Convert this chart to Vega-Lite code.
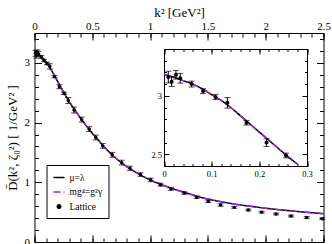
{
"$schema": "https://vega.github.io/schema/vega-lite/v6.json",
"width": 289, "height": 209,
"autosize": {"type": "none"},
"padding": {"left": 34.5, "top": 33, "right": 8.5, "bottom": 2},
"background": "white",
"config": {
  "font": "Liberation Serif",
  "view": {"stroke": null},
  "axis": {"labelFont": "Liberation Serif", "titleFont": "Liberation Serif", "labelColor": "black", "titleColor": "black", "domainColor": "black", "tickColor": "black", "grid": false, "titleFontWeight": "normal", "labelFontSize": 11, "titleFontSize": 13, "labelFlush": false, "labelOverlap": false, "domainWidth": 1, "tickWidth": 1}
},
"datasets": {
  "lattice": [
    {"k2": 0.009, "D": 3.16, "err": 0.05},
    {"k2": 0.016, "D": 3.12, "err": 0.04},
    {"k2": 0.025, "D": 3.18, "err": 0.037},
    {"k2": 0.034, "D": 3.15, "err": 0.042},
    {"k2": 0.058, "D": 3.10, "err": 0.025},
    {"k2": 0.082, "D": 3.04, "err": 0.02},
    {"k2": 0.108, "D": 2.99, "err": 0.022},
    {"k2": 0.133, "D": 2.94, "err": 0.045},
    {"k2": 0.173, "D": 2.77, "err": 0.02},
    {"k2": 0.215, "D": 2.60, "err": 0.033},
    {"k2": 0.256, "D": 2.49, "err": 0.02},
    {"k2": 0.292, "D": 2.37, "err": 0.05},
    {"k2": 0.342, "D": 2.21, "err": 0.05},
    {"k2": 0.408, "D": 2.05, "err": 0.04},
    {"k2": 0.474, "D": 1.89, "err": 0.04},
    {"k2": 0.53, "D": 1.75, "err": 0.04},
    {"k2": 0.59, "D": 1.61, "err": 0.04},
    {"k2": 0.672, "D": 1.46, "err": 0.04},
    {"k2": 0.754, "D": 1.33, "err": 0.04},
    {"k2": 0.826, "D": 1.235, "err": 0.035},
    {"k2": 0.917, "D": 1.13, "err": 0.03},
    {"k2": 1.005, "D": 1.04, "err": 0.03},
    {"k2": 1.09, "D": 0.96, "err": 0.025},
    {"k2": 1.18, "D": 0.89, "err": 0.025},
    {"k2": 1.296, "D": 0.82, "err": 0.02},
    {"k2": 1.403, "D": 0.75, "err": 0.02},
    {"k2": 1.503, "D": 0.68, "err": 0.02},
    {"k2": 1.61, "D": 0.62, "err": 0.02},
    {"k2": 1.728, "D": 0.58, "err": 0.015},
    {"k2": 1.85, "D": 0.536, "err": 0.015},
    {"k2": 1.965, "D": 0.50, "err": 0.015},
    {"k2": 2.09, "D": 0.47, "err": 0.015},
    {"k2": 2.219, "D": 0.435, "err": 0.015},
    {"k2": 2.355, "D": 0.41, "err": 0.015},
    {"k2": 2.49, "D": 0.39, "err": 0.015}
  ],
  "curve": [
    {"k2": 0, "D": 3.185}, {"k2": 0.02, "D": 3.16}, {"k2": 0.04, "D": 3.13}, {"k2": 0.06, "D": 3.10},
    {"k2": 0.08, "D": 3.06}, {"k2": 0.1, "D": 3.01}, {"k2": 0.12, "D": 2.96}, {"k2": 0.14, "D": 2.90},
    {"k2": 0.16, "D": 2.83}, {"k2": 0.18, "D": 2.76}, {"k2": 0.2, "D": 2.69}, {"k2": 0.22, "D": 2.62},
    {"k2": 0.24, "D": 2.55}, {"k2": 0.26, "D": 2.48}, {"k2": 0.28, "D": 2.415}, {"k2": 0.3, "D": 2.35},
    {"k2": 0.35, "D": 2.21}, {"k2": 0.4, "D": 2.07}, {"k2": 0.45, "D": 1.94}, {"k2": 0.5, "D": 1.82},
    {"k2": 0.55, "D": 1.71}, {"k2": 0.6, "D": 1.60}, {"k2": 0.65, "D": 1.50}, {"k2": 0.7, "D": 1.41},
    {"k2": 0.8, "D": 1.26}, {"k2": 0.9, "D": 1.14}, {"k2": 1.0, "D": 1.04}, {"k2": 1.1, "D": 0.96},
    {"k2": 1.2, "D": 0.89}, {"k2": 1.3, "D": 0.83}, {"k2": 1.4, "D": 0.77}, {"k2": 1.5, "D": 0.72},
    {"k2": 1.6, "D": 0.68}, {"k2": 1.7, "D": 0.645}, {"k2": 1.8, "D": 0.615}, {"k2": 1.9, "D": 0.59},
    {"k2": 2.0, "D": 0.565}, {"k2": 2.2, "D": 0.525}, {"k2": 2.4, "D": 0.49}, {"k2": 2.5, "D": 0.475}
  ]
},
"layer": [
  {
    "layer": [
      {
        "data": {"name": "curve"},
        "mark": {"type": "line", "strokeWidth": 1.5, "interpolate": "monotone"},
        "encoding": {
          "x": {"field": "k2", "type": "quantitative", "scale": {"domain": [0, 2.5], "nice": false},
                "axis": {"orient": "top", "values": [0, 0.5, 1, 1.5, 2, 2.5], "format": "~g", "tickSize": -7, "labelPadding": 8.5, "title": "k² [GeV²]", "titlePadding": 1}},
          "y": {"field": "D", "type": "quantitative", "scale": {"domain": [0, 3.5], "nice": false},
                "axis": {"orient": "left", "values": [0, 1, 2, 3], "format": "~g", "tickSize": -7, "labelPadding": 12, "title": "D̄(k², ζ₀²) [ 1/GeV² ]", "titlePadding": 5}},
          "color": {"datum": "mu", "type": "nominal",
                    "scale": {"domain": ["mu", "mg", "lat"], "range": ["black", "#a020f0", "black"]},
                    "legend": {"orient": "none", "legendX": 12, "legendY": 132, "title": null, "strokeColor": "black", "fillColor": "white", "padding": 6, "rowPadding": 3.5, "labelFont": "Liberation Serif", "labelFontSize": 9.5, "labelColor": "black", "labelOffset": 4, "symbolStrokeWidth": 1.5, "symbolSize": 121,
                               "labelExpr": "datum.label == 'mu' ? 'μ=λ' : datum.label == 'mg' ? 'mg⁴=g²γ' : 'Lattice'"}},
          "strokeDash": {"datum": "mu", "type": "nominal",
                    "scale": {"domain": ["mu", "mg", "lat"], "range": [[1, 0], [7, 3, 1.5, 3], [1, 0]]}}
        }
      },
      {
        "data": {"name": "curve"},
        "mark": {"type": "line", "strokeWidth": 1.5, "interpolate": "monotone"},
        "encoding": {
          "x": {"field": "k2", "type": "quantitative", "scale": {"domain": [0, 2.5], "nice": false},
                "axis": {"orient": "top", "values": [0,0.1,0.2,0.3,0.4,0.5,0.6,0.7,0.8,0.9,1,1.1,1.2,1.3,1.4,1.5,1.6,1.7,1.8,1.9,2,2.1,2.2,2.3,2.4,2.5], "tickSize": -4, "labels": false, "domain": false, "title": null}},
          "y": {"field": "D", "type": "quantitative", "scale": {"domain": [0, 3.5], "nice": false},
                "axis": {"orient": "left", "values": [0,0.2,0.4,0.6,0.8,1,1.2,1.4,1.6,1.8,2,2.2,2.4,2.6,2.8,3,3.2,3.4], "tickSize": -4, "labels": false, "domain": false, "title": null}},
          "color": {"datum": "mg", "type": "nominal"},
          "strokeDash": {"datum": "mg", "type": "nominal"}
        }
      },
      {
        "data": {"name": "lattice"},
        "mark": {"type": "errorbar", "ticks": {"size": 6}, "color": "black", "thickness": 1},
        "encoding": {
          "x": {"field": "k2", "type": "quantitative", "scale": {"domain": [0, 2.5], "nice": false},
                "axis": {"orient": "bottom", "values": [0, 0.5, 1, 1.5, 2, 2.5], "tickSize": -7, "labels": false, "title": null}},
          "y": {"field": "D", "type": "quantitative", "scale": {"domain": [0, 3.5], "nice": false},
                "axis": {"orient": "right", "values": [0, 1, 2, 3], "tickSize": -7, "labels": false, "title": null}},
          "yError": {"field": "err"}
        }
      },
      {
        "data": {"name": "lattice"},
        "mark": {"type": "point", "filled": true, "opacity": 1, "size": 121},
        "encoding": {
          "x": {"field": "k2", "type": "quantitative", "scale": {"domain": [0, 2.5], "nice": false},
                "axis": {"orient": "bottom", "values": [0,0.1,0.2,0.3,0.4,0.5,0.6,0.7,0.8,0.9,1,1.1,1.2,1.3,1.4,1.5,1.6,1.7,1.8,1.9,2,2.1,2.2,2.3,2.4,2.5], "tickSize": -4, "labels": false, "domain": false, "title": null}},
          "y": {"field": "D", "type": "quantitative", "scale": {"domain": [0, 3.5], "nice": false},
                "axis": {"orient": "right", "values": [0,0.2,0.4,0.6,0.8,1,1.2,1.4,1.6,1.8,2,2.2,2.4,2.6,2.8,3,3.2,3.4], "tickSize": -4, "labels": false, "domain": false, "title": null}},
          "color": {"datum": "lat", "type": "nominal"},
          "shape": {"datum": "lat", "type": "nominal", "scale": {"domain": ["mu", "mg", "lat"], "range": ["stroke", "stroke", "M-0.31,0A0.31,0.31,0,1,0,0.31,0A0.31,0.31,0,1,0,-0.31,0Z"]}}
        }
      }
    ],
    "resolve": {"axis": {"x": "independent", "y": "independent"}}
  },
  {
    "layer": [
      {
        "data": {"name": "curve"},
        "transform": [{"filter": {"field": "k2", "lte": 0.28}}],
        "mark": {"type": "line", "strokeWidth": 1.5, "interpolate": "monotone", "color": "black"},
        "encoding": {
          "x": {"field": "k2", "type": "quantitative", "scale": {"domain": [0, 0.3], "nice": false, "range": [129.5, 272.5]},
                "axis": {"orient": "bottom", "offset": -76, "values": [0, 0.1, 0.2, 0.3], "format": "~g", "tickSize": -5, "labelPadding": 8.5, "labelFontSize": 8.5, "title": null}},
          "y": {"field": "D", "type": "quantitative", "scale": {"domain": [2.4, 3.4], "nice": false, "zero": false, "range": [133, 16]},
                "axis": {"orient": "left", "offset": -129.5, "values": [2.5, 3], "format": "~g", "tickSize": -5, "labelPadding": 7.5, "labelFontSize": 8.5, "title": null}}
        }
      },
      {
        "data": {"name": "curve"},
        "transform": [{"filter": {"field": "k2", "lte": 0.28}}],
        "mark": {"type": "line", "strokeWidth": 1.5, "interpolate": "monotone", "color": "#a020f0", "strokeDash": [7, 3, 1.5, 3]},
        "encoding": {
          "x": {"field": "k2", "type": "quantitative", "scale": {"domain": [0, 0.3], "nice": false, "range": [129.5, 272.5]},
                "axis": {"orient": "bottom", "offset": -76, "values": [0,0.02,0.04,0.06,0.08,0.1,0.12,0.14,0.16,0.18,0.2,0.22,0.24,0.26,0.28,0.3], "tickSize": -2.5, "labels": false, "domain": false, "title": null}},
          "y": {"field": "D", "type": "quantitative", "scale": {"domain": [2.4, 3.4], "nice": false, "zero": false, "range": [133, 16]},
                "axis": {"orient": "left", "offset": -129.5, "values": [2.4,2.5,2.6,2.7,2.8,2.9,3,3.1,3.2,3.3,3.4], "tickSize": -2.5, "labels": false, "domain": false, "title": null}}
        }
      },
      {
        "data": {"name": "lattice"},
        "transform": [{"filter": {"field": "k2", "lte": 0.27}}],
        "mark": {"type": "errorbar", "ticks": {"size": 6}, "color": "black", "thickness": 1},
        "encoding": {
          "x": {"field": "k2", "type": "quantitative", "scale": {"domain": [0, 0.3], "nice": false, "range": [129.5, 272.5]},
                "axis": {"orient": "top", "offset": -16, "values": [0, 0.1, 0.2, 0.3], "tickSize": -5, "labels": false, "title": null}},
          "y": {"field": "D", "type": "quantitative", "scale": {"domain": [2.4, 3.4], "nice": false, "zero": false, "range": [133, 16]},
                "axis": {"orient": "right", "offset": -16.5, "values": [2.5, 3], "tickSize": -5, "labels": false, "title": null}},
          "yError": {"field": "err"}
        }
      },
      {
        "data": {"name": "lattice"},
        "transform": [{"filter": {"field": "k2", "lte": 0.27}}],
        "mark": {"type": "point", "filled": true, "opacity": 1, "color": "black", "size": 16},
        "encoding": {
          "x": {"field": "k2", "type": "quantitative", "scale": {"domain": [0, 0.3], "nice": false, "range": [129.5, 272.5]},
                "axis": {"orient": "top", "offset": -16, "values": [0,0.02,0.04,0.06,0.08,0.1,0.12,0.14,0.16,0.18,0.2,0.22,0.24,0.26,0.28,0.3], "tickSize": -2.5, "labels": false, "domain": false, "title": null}},
          "y": {"field": "D", "type": "quantitative", "scale": {"domain": [2.4, 3.4], "nice": false, "zero": false, "range": [133, 16]},
                "axis": {"orient": "right", "offset": -16.5, "values": [2.4,2.5,2.6,2.7,2.8,2.9,3,3.1,3.2,3.3,3.4], "tickSize": -2.5, "labels": false, "domain": false, "title": null}}
        }
      }
    ],
    "resolve": {"axis": {"x": "independent", "y": "independent"}}
  }
],
"resolve": {"scale": {"x": "independent", "y": "independent"}, "axis": {"x": "independent", "y": "independent"}}
}
